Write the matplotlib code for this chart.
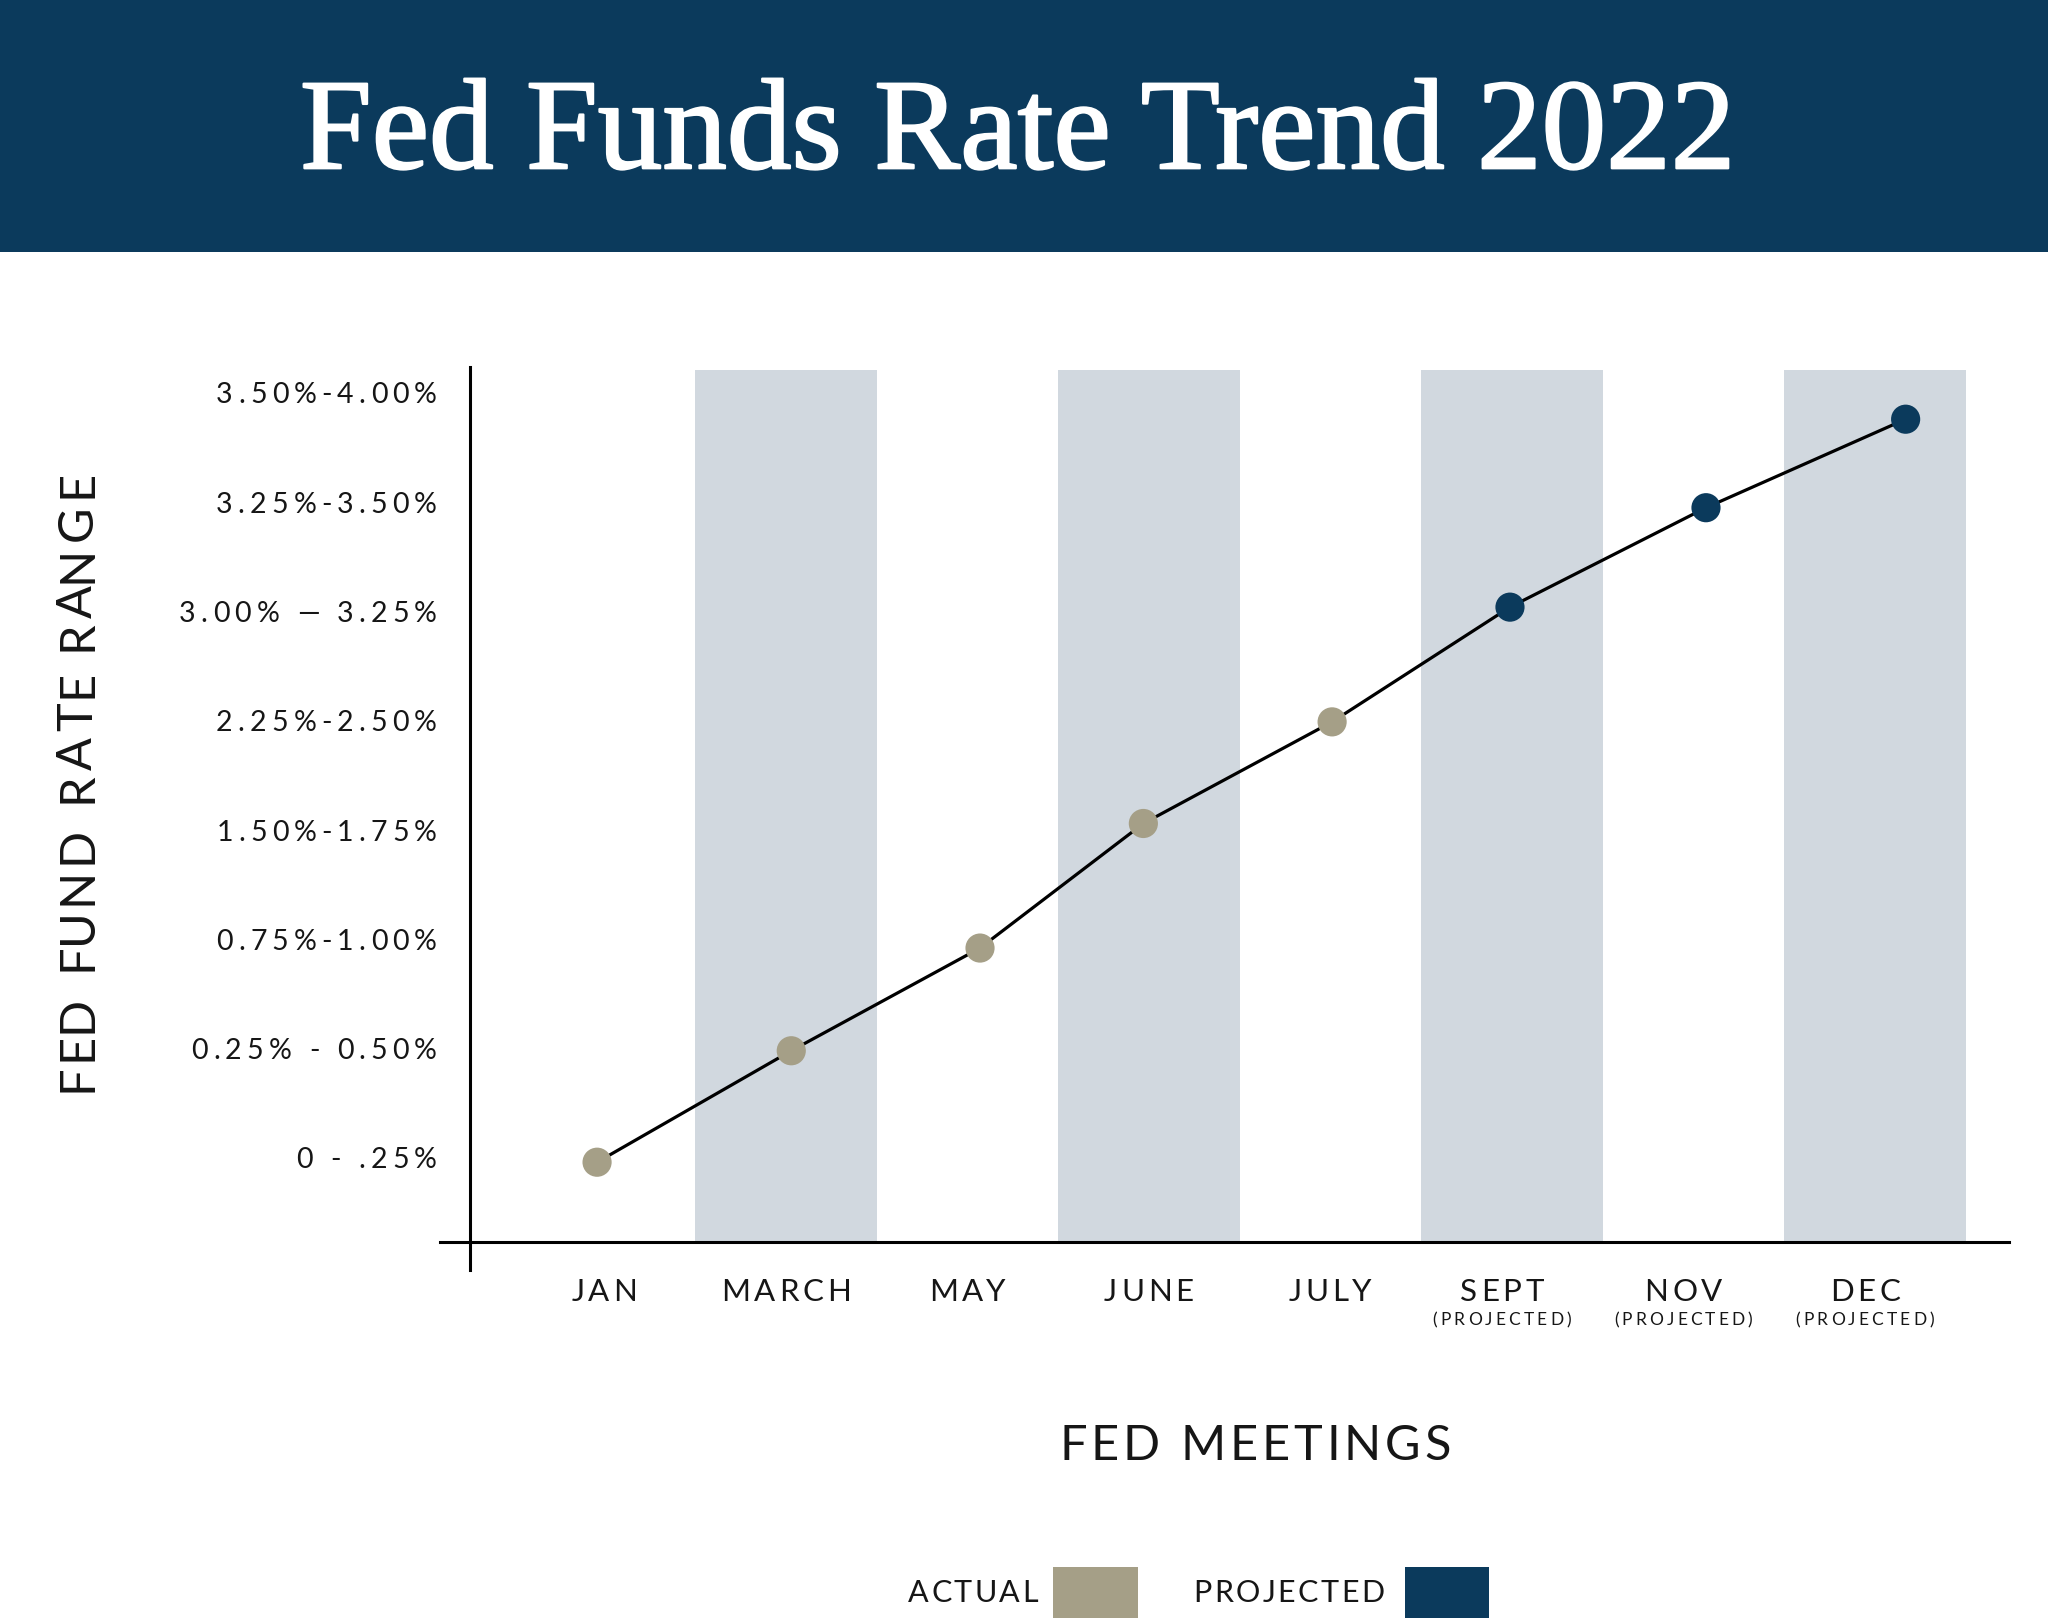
import numpy as np
import matplotlib; matplotlib.use("Agg")
import matplotlib.pyplot as plt
import matplotlib.patheffects as pe
from matplotlib.patches import Rectangle
from matplotlib.transforms import IdentityTransform

# --- data -------------------------------------------------------------------
meetings = ["JAN", "MARCH", "MAY", "JUNE", "JULY", "SEPT", "NOV", "DEC"]
projected = [False, False, False, False, False, True, True, True]
rate_ranges = ["0 - .25%", "0.25% - 0.50%", "0.75%-1.00%", "1.50%-1.75%",
               "2.25%-2.50%", "3.00% \u2014 3.25%", "3.25%-3.50%", "3.50%-4.00%"]
# where each meeting's dot sits (meeting slot, rate-range level)
meeting_pos = [-0.04, 1.03, 2.07, 2.97, 4.01, 4.99, 6.07, 7.17]
rate_level = [-0.04, 0.98, 1.92, 3.06, 3.99, 5.04, 5.95, 6.76]

NAVY = "#0b3a5c"; TAN = "#a59f87"; BAND = "#d1d8df"; INK = "#161616"
SANS = ["Lato", "DejaVu Sans"]; SERIF = ["Liberation Serif", "DejaVu Serif"]
plt.rcParams["font.family"] = SANS

fig = plt.figure(figsize=(20.48, 16.18), dpi=100)
R = fig.canvas.get_renderer()
PX = IdentityTransform()


def _w(s, size):
    t = fig.text(0, 0, s, fontsize=size)
    w = t.get_window_extent(R).width; t.remove()
    return w


def tracked(x, y, s, size, track, ha="center", rot=0, color=INK):
    """draw s letter-spaced (track in em), x/y in pixels, centred vertically"""
    base = _w("xx", size)
    adv = [_w("x" + c + "x", size) - base for c in s]
    gap = track * size * fig.dpi / 72
    total = sum(adv) + gap * (len(s) - 1)
    pos = {"left": 0, "center": -total / 2, "right": -total}[ha]
    for c, a in zip(s, adv):
        cx = pos + a / 2
        px, py = (x + cx, y) if rot == 0 else (x, y + cx)
        fig.text(px, py, c, transform=PX, fontsize=size, color=color,
                 ha="center", va="center_baseline", rotation=rot)
        pos += a + gap


# header band + title
fig.patches.append(Rectangle((0, 0.8443), 1, 0.1557, transform=fig.transFigure,
                             facecolor=NAVY, edgecolor="none", zorder=0))
fig.text(0.4965, 0.896, "Fed Funds Rate Trend 2022", family=SERIF, fontsize=93,
         color="white", ha="center", va="baseline",
         path_effects=[pe.withStroke(linewidth=1.6, foreground="white")])

ax = fig.add_axes([0.2295, 0.2324, 0.7515, 0.5389])
x = np.arange(len(meetings))
ax.set_xlim(-0.74, 7.74); ax.set_ylim(-0.77, 7.21)
for i in x[1::2]:
    ax.axvspan(i - 0.5, i + 0.5, color=BAND, lw=0, zorder=0)

ax.plot(meeting_pos, rate_level, color="black", lw=2.3, zorder=2)
cols = [NAVY if p else TAN for p in projected]
ax.scatter(meeting_pos, rate_level, s=21 ** 2, c=cols, zorder=3, linewidths=0)

for s in ax.spines.values():
    s.set_visible(False)
ax.set_xticks([]); ax.set_yticks([])
ax.plot([-0.0195, 1], [0, 0], transform=ax.transAxes, color="black", lw=2.2, clip_on=False)
ax.plot([0, 0], [-0.032, 1.004], transform=ax.transAxes, color="black", lw=2.2, clip_on=False)

# y tick labels (letter-spaced)
x0, y0 = ax.transAxes.transform((0, 0))
for k, lab in enumerate(rate_ranges):
    _, py = ax.transData.transform((0, k))
    tracked(x0 - 33, py, lab, 20.5, 0.18, ha="right")

# x tick labels + (PROJECTED)
for i, lab, p in zip(x, meetings, projected):
    px, _ = ax.transData.transform((i, 0))
    if p:
        px -= 10
    tracked(px, y0 - 48, lab, 22.5, 0.12)
    if p:
        tracked(px, y0 - 77, "(PROJECTED)", 12.5, 0.18)

tracked(78, 833, "FED FUND RATE RANGE", 35, 0.08, rot=90)
tracked(1255, 176, "FED MEETINGS", 35, 0.08)

# legend
tracked(1038, 27, "ACTUAL", 22, 0.08, ha="right")
fig.patches.append(Rectangle((0.514, 0), 0.0415, 0.0315, transform=fig.transFigure,
                             facecolor=TAN, edgecolor="none"))
tracked(1384, 27, "PROJECTED", 22, 0.08, ha="right")
fig.patches.append(Rectangle((0.686, 0), 0.041, 0.0315, transform=fig.transFigure,
                             facecolor=NAVY, edgecolor="none"))

fig.savefig("out.png", dpi=100)
